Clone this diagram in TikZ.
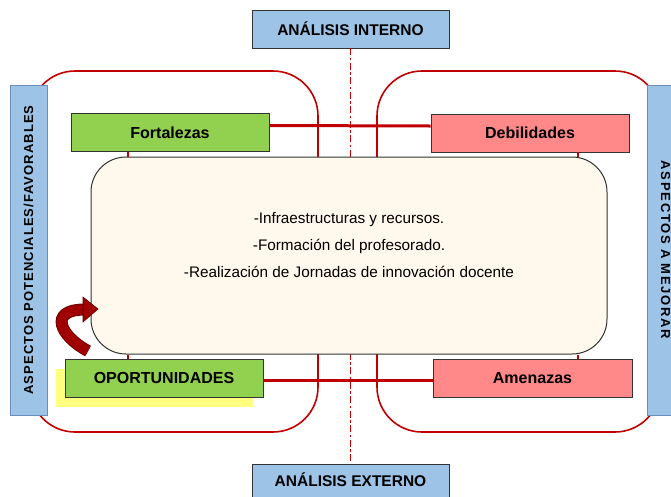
\documentclass[tikz,border=0pt]{standalone}
\usepackage{fontspec}
\setmainfont{Liberation Sans}
\usetikzlibrary{arrows.meta}

\definecolor{azul}{HTML}{9DC3E6}
\definecolor{azulborde}{HTML}{6A8DBA}
\definecolor{verde}{HTML}{92D050}
\definecolor{rosa}{HTML}{FF8888}
\definecolor{crema}{HTML}{FFF8EC}
\definecolor{rojo}{HTML}{C00000}
\definecolor{granate}{HTML}{A00000}
\definecolor{amarillo}{HTML}{FFFF80}

\begin{document}
\begin{tikzpicture}[x=1pt,y=-1pt,
    analisis/.style={draw=black!80,fill=azul,line width=0.9pt,minimum width=197pt,font=\fontsize{15.5}{18}\selectfont\bfseries},
    aspecto/.style={draw=azulborde,fill=azul,line width=0.9pt,minimum width=330pt,minimum height=37pt},
    verdebox/.style={draw=black!80,fill=verde,line width=0.9pt,minimum width=198pt,minimum height=38pt,font=\fontsize{16}{18}\selectfont\bfseries},
    rosabox/.style={draw=black!80,fill=rosa,line width=0.9pt,minimum width=198pt,minimum height=38pt,font=\fontsize{16}{18}\selectfont\bfseries},
    marco/.style={draw=rojo,line width=1.6pt,rounded corners=45pt},
    enlace/.style={draw=rojo,line width=3pt},
    tramo/.style={draw=rojo,line width=1.6pt}]
    \useasboundingbox (0,0) rectangle (671,496);
    \clip (0,0) rectangle (671,496);

    % marcos rojos
    \draw[marco] (30,71) rectangle (318,432);
    \draw[marco] (377,71) rectangle (660,432);

    \node[analisis,minimum height=38pt] (interno) at (350.5,29) {ANÁLISIS INTERNO};
    \node[analisis,minimum height=40pt,text depth=0pt] (externo) at (350.5,484) {\raisebox{8pt}{ANÁLISIS EXTERNO}};
    \draw[rojo,line width=1.5pt,dash pattern=on 7pt off 2.5pt on 2.5pt off 2.5pt] (interno.south) -- (externo.north);

    \fill[amarillo] (56,369) rectangle (253,407);
    \node[verdebox] (fort) at (170,132.5) {Fortalezas};
    \node[rosabox] (debil) at (530,133) {Debilidades};
    \node[verdebox] (oport) at (164,378) {OPORTUNIDADES};
    \node[rosabox,minimum width=199pt] (amen) at (532.5,378) {Amenazas};

    \draw[enlace] ([yshift=7pt]fort.east) -- ([yshift=7pt]debil.west);
    \draw[enlace] ([yshift=-2pt]oport.east) -- ([yshift=-2pt]amen.west);

    \node[draw=black!80,fill=crema,line width=1pt,rounded corners=35pt,minimum width=516pt,minimum height=197pt] (centro) at (349,255.5) {};
    \node[align=center,font=\fontsize{15.3}{27}\selectfont] (texto) at (349,245)
        {-Infraestructuras y recursos.\\-Formación del profesorado.\\-Realización de Jornadas de innovación docente};

    \draw[tramo] (fort.south -| 128,0) -- (centro.north -| 128,0);
    \draw[tramo] (debil.south -| 578,0) -- (centro.north -| 578,0);
    \draw[tramo] (centro.south -| 128,0) -- (oport.north -| 128,0);
    \draw[tramo] (centro.south -| 578,0) -- (amen.north -| 578,0);

    \node[aspecto,rotate=90] (favor) at (28.5,250)
        {\addfontfeature{LetterSpace=8}\fontsize{13}{15}\selectfont\bfseries ASPECTOS POTENCIALES/FAVORABLES};
    \node[aspecto,rotate=-90] (mejorar) at (665.5,250)
        {\addfontfeature{LetterSpace=13}\fontsize{13}{15}\selectfont\bfseries ASPECTOS A MEJORAR};

    % flecha curva
    \coordinate (cola) at (88,351);
    \coordinate (punta) at (98,309);
    \draw[granate!70!black,line width=12pt,line cap=butt] (cola) .. controls (60,336) and (48,310) .. (84,309.5);
    \draw[granate,line width=10pt,line cap=butt] (cola) .. controls (60,336) and (48,310) .. (84,309.5);
    \fill[granate,draw=granate!60!black,line width=0.6pt] (83,297) -- (punta) -- (83,322) -- cycle;
\end{tikzpicture}
\end{document}
